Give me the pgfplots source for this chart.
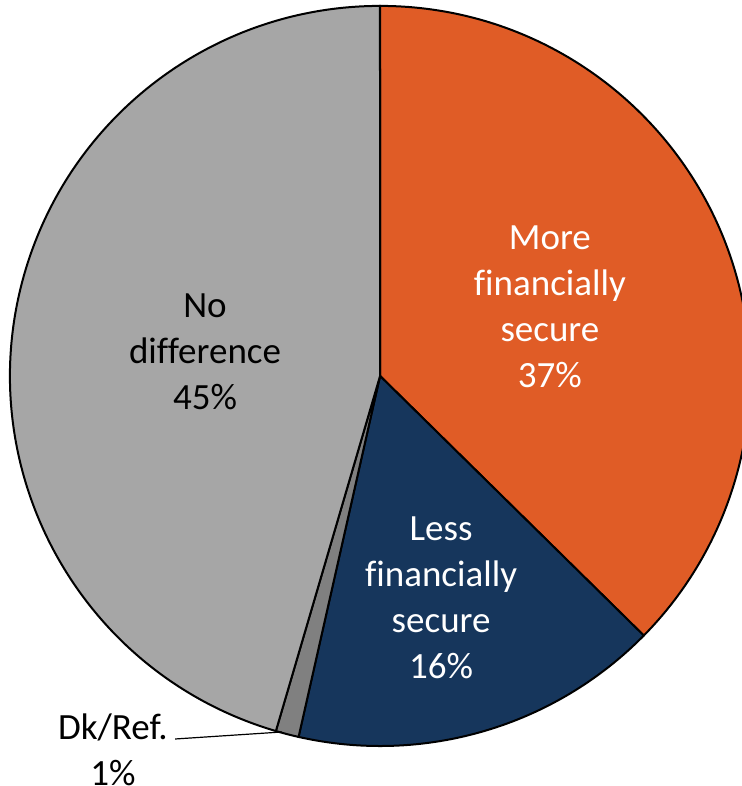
\documentclass[border=0pt]{standalone}
\usepackage{pgfplots}
\pgfplotsset{compat=1.18}
\usepackage{fontspec}
\setmainfont{Carlito}[Ligatures=NoCommon]

\definecolor{moresec}{RGB}{224,92,38}
\definecolor{lesssec}{RGB}{22,54,92}
\definecolor{dkref}{RGB}{128,128,128}
\definecolor{nodiff}{RGB}{166,166,166}

% shares (%), clockwise from 12 o'clock
\def\vMore{37}
\def\vLess{16}
\def\vDk{1}
\def\vNo{45}
\pgfmathsetmacro\total{\vMore+\vLess+\vDk+\vNo}
\pgfmathsetmacro\aA{90}
\pgfmathsetmacro\aB{\aA-\vMore/\total*360}
\pgfmathsetmacro\aC{\aB-\vLess/\total*360}
\pgfmathsetmacro\aD{\aC-\vDk/\total*360}
\pgfmathsetmacro\aE{\aD-\vNo/\total*360}

\begin{document}
\begin{tikzpicture}
\begin{axis}[
x=185pt, y=185pt,
xmin=-1.027, xmax=0.978,
ymin=-1.108, ymax=1.016,
hide axis,
clip=true,
]
\path (rel axis cs:0,0) rectangle (rel axis cs:1,1);

\filldraw[fill=moresec, draw=black, line width=1pt]
  (axis cs:0,0) -- ++(\aA:185pt) arc[start angle=\aA, end angle=\aB, radius=185pt] -- cycle;
\filldraw[fill=lesssec, draw=black, line width=1pt]
  (axis cs:0,0) -- ++(\aB:185pt) arc[start angle=\aB, end angle=\aC, radius=185pt] -- cycle;
\filldraw[fill=dkref, draw=black, line width=1pt]
  (axis cs:0,0) -- ++(\aC:185pt) arc[start angle=\aC, end angle=\aD, radius=185pt] -- cycle;
\filldraw[fill=nodiff, draw=black, line width=1pt]
  (axis cs:0,0) -- ++(\aD:185pt) arc[start angle=\aD, end angle=\aE, radius=185pt] -- cycle;

\draw[line width=0.6pt] (axis cs:-0.554,-0.981) -- (axis cs:-0.265,-0.962);

\tikzset{lbl/.style={align=center, inner sep=0pt, font=\fontsize{18.5}{23}\selectfont}}
\node[lbl, text=white] at (axis cs:0.459,0.186) {More\\financially\\secure\\37\%};
\node[lbl, text=white] at (axis cs:0.165,-0.600) {Less\\financially\\secure\\16\%};
\node[lbl] at (axis cs:-0.473,0.065) {No\\difference\\45\%};
\node[lbl] at (axis cs:-0.722,-1.010) {Dk/Ref.\\1\%};
\end{axis}
\end{tikzpicture}
\end{document}
